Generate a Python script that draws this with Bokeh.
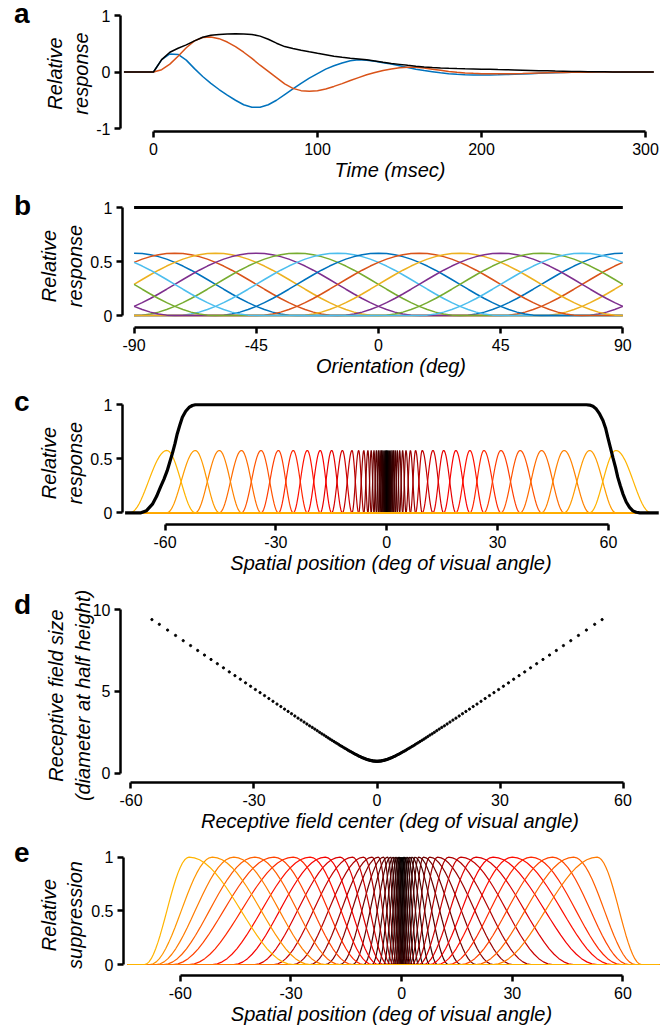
import numpy as np
from bokeh.plotting import figure
from bokeh.models import Range1d, FixedTicker, Div
from bokeh.layouts import column, row
from bokeh.embed import file_html
from bokeh.resources import INLINE

FONT = "Liberation Sans"

# ---------------- data ----------------
# a: temporal responses (msec)
a_time = [-18] + list(range(0, 310, 5))
a_blue = [0, 0, 0.22, 0.32, 0.31, 0.21, 0.06, -0.08, -0.20, -0.31,
          -0.41, -0.50, -0.58, -0.625, -0.625, -0.58, -0.50, -0.40, -0.30, -0.20,
          -0.11, -0.03, 0.05, 0.11, 0.16, 0.20, 0.215, 0.21, 0.19, 0.165,
          0.14, 0.11, 0.08, 0.05, 0.025, 0.005, -0.015, -0.03, -0.04, -0.048,
          -0.052, -0.054, -0.053, -0.05, -0.046, -0.041, -0.035, -0.029, -0.023, -0.018,
          -0.013, -0.009, -0.006, -0.004, -0.002, -0.001, 0, 0, 0, 0,
          0, 0, 0]
a_orange = [0, 0, 0.04, 0.14, 0.28, 0.43, 0.55, 0.61, 0.62, 0.59,
            0.53, 0.45, 0.35, 0.24, 0.12, 0.01, -0.10, -0.21, -0.29, -0.33,
            -0.34, -0.33, -0.30, -0.255, -0.205, -0.15, -0.10, -0.05, -0.01, 0.025,
            0.055, 0.075, 0.085, 0.083, 0.07, 0.05, 0.03, 0.01, -0.006, -0.017,
            -0.024, -0.029, -0.031, -0.032, -0.031, -0.029, -0.026, -0.022, -0.018, -0.014,
            -0.011, -0.008, -0.006, -0.004, -0.003, -0.002, -0.001, 0, 0, 0,
            0, 0, 0]
a_black = [0, 0, 0.22, 0.35, 0.42, 0.48, 0.55, 0.615, 0.65, 0.665,
           0.672, 0.675, 0.673, 0.665, 0.635, 0.58, 0.51, 0.45, 0.415, 0.385,
           0.357, 0.33, 0.305, 0.28, 0.26, 0.245, 0.232, 0.215, 0.195, 0.172,
           0.152, 0.135, 0.118, 0.103, 0.09, 0.08, 0.072, 0.065, 0.06, 0.056,
           0.053, 0.05, 0.047, 0.043, 0.04, 0.036, 0.032, 0.028, 0.024, 0.02,
           0.016, 0.013, 0.01, 0.008, 0.006, 0.004, 0.003, 0.002, 0.001, 0,
           0, 0, 0]

# shape of one tuning-curve flank (fraction of half-width -> fraction of peak)
flank_u = [0.00, 0.05, 0.10, 0.15, 0.20, 0.25, 0.30, 0.35, 0.40, 0.45, 0.50,
           0.55, 0.60, 0.65, 0.70, 0.75, 0.80, 0.85, 0.90, 0.95, 1.00]
flank_profile = [1.0, 0.9938, 0.9755, 0.9455, 0.9045, 0.8536, 0.7939, 0.7270, 0.6545, 0.5782, 0.5,
                 0.4218, 0.3455, 0.2730, 0.2061, 0.1464, 0.0955, 0.0545, 0.0245, 0.0062, 0.0]

# b: orientation channels
b_centers = [-90, -75, -60, -45, -30, -15, 0, 15, 30, 45, 60, 75]
b_peak = 0.577
b_halfwidth = 60
b_total_x = [-90, 90]
b_total = [1.0, 1.0]

# c: spatial channels
c_centers = [-59.5, -51.8, -45.3, -39.3, -34.0, -29.3, -25.3, -21.5, -18.0, -14.9, -12.0, -9.4,
             -7.6, -6.2, -5.1, -4.2, -3.45, -2.8, -2.25, -1.8, -1.4, -1.05, -0.75, -0.5, -0.3, -0.12,
             0.0, 0.15, 0.33, 0.55, 0.8, 1.1, 1.45, 1.85, 2.3, 2.85, 3.5, 4.3, 5.2, 6.4, 7.8,
             9.6, 12.5, 15.4, 18.7, 22.5, 26.3, 30.9, 36.1, 41.9, 48.0, 54.9, 62.0]
c_left_edge = -69.5
c_right_edge = 71.5
c_domain = (-70.5, 71.5)
c_peak = 0.577
c_total_x = [-70.8, -66.5, -65.0, -63.4, -62.3, -61.2, -60.3, -59.4, -58.7, -58.0, -57.3, -56.7,
             -56.0, -55.3, -54.4, -53.5, -52.6, -51.8, 54.0, 54.9, 55.8, 56.7, 57.6, 58.5, 59.2,
             59.8, 60.5, 61.2, 61.9, 62.5, 63.2, 63.9, 64.8, 65.7, 66.6, 67.5, 68.5, 73.6]
c_total = [0, 0, 0.02, 0.08, 0.15, 0.24, 0.31, 0.39, 0.47, 0.55, 0.64, 0.73,
           0.81, 0.885, 0.94, 0.975, 0.993, 1.0, 1.0, 0.997, 0.985, 0.96, 0.915, 0.855, 0.785,
           0.70, 0.605, 0.51, 0.42, 0.33, 0.25, 0.176, 0.10, 0.05, 0.018, 0.005, 0, 0]

# d: receptive field size vs centre (one side; the other side mirrors it)
d_center_pos = [0, 0.17, 0.34, 0.50, 0.67, 0.84, 1.01, 1.19, 1.36, 1.54, 1.72, 1.90, 2.08, 2.27,
                2.46, 2.65, 2.85, 3.05, 3.26, 3.47, 3.69, 3.91, 4.14, 4.37, 4.61, 4.86, 5.11,
                5.37, 5.64, 5.92, 6.21, 6.50, 6.81, 7.13, 7.45, 7.79, 8.14, 8.50, 8.88, 9.26,
                9.66, 10.08, 10.51, 10.96, 11.42, 11.90, 12.39, 12.91, 13.45, 14.00, 14.58,
                15.17, 15.79, 16.44, 17.10, 17.80, 18.52, 19.26, 20.04, 20.85, 21.68, 22.55,
                23.46, 24.39, 25.37, 26.38, 27.43, 28.52, 29.66, 30.83, 32.06, 33.33, 34.65,
                36.03, 37.45, 38.94, 40.48, 42.08, 43.74, 45.47, 47.26, 49.13, 51.07, 53.09, 54.9]
d_size = [0.73, 0.73, 0.73, 0.74, 0.74, 0.74, 0.75, 0.76, 0.77, 0.78, 0.79, 0.80, 0.81, 0.83,
          0.84, 0.86, 0.88, 0.90, 0.92, 0.94, 0.96, 0.99, 1.02, 1.04, 1.07, 1.11, 1.14,
          1.17, 1.21, 1.25, 1.29, 1.33, 1.37, 1.42, 1.47, 1.52, 1.57, 1.63, 1.68, 1.74,
          1.81, 1.87, 1.94, 2.01, 2.08, 2.16, 2.24, 2.33, 2.41, 2.50, 2.60,
          2.70, 2.80, 2.90, 3.01, 3.13, 3.25, 3.37, 3.50, 3.64, 3.78, 3.92,
          4.08, 4.23, 4.40, 4.57, 4.75, 4.93, 5.12, 5.32, 5.53, 5.75, 5.97,
          6.20, 6.45, 6.70, 6.96, 7.23, 7.51, 7.81, 8.11, 8.43, 8.76, 9.11, 9.40]

# e: suppressive pools
e_centers = [-57.6, -51.3, -45.5, -39.8, -34.6, -29.4, -24.8, -20.7, -16.7, -13.3, -10.3,
             -8.0, -6.3, -4.9, -3.8, -2.95, -2.25, -1.7, -1.25, -0.85, -0.5, -0.2,
             0.1, 0.4, 0.75, 1.15, 1.6, 2.15, 2.8, 3.6, 4.6, 5.9, 7.6,
             9.7, 12.7, 16.1, 20.2, 24.8, 30.0, 35.1, 40.9, 46.6, 53.0]
e_left_virtual = [-69.7, -68.2, -66.5, -64.5, -62.0]
e_right_virtual = [57.0, 59.5, 61.6, 63.4, 65.0]
e_reach = 5
e_domain = (-74.3, 70.2)
e_peak = 1.0

# ---------------- helpers ----------------
U = np.array(flank_u)
P = np.array(flank_profile)


def bump(center, left, right, peak):
    xl = center - (center - left) * U[::-1]
    yl = peak * P[::-1]
    xr = center + (right - center) * U[1:]
    yr = peak * P[1:]
    return np.concatenate([xl, xr]), np.concatenate([yl, yr])


def with_domain(x, y, lo, hi):
    xs, ys = list(x), list(y)
    if lo < xs[0]:
        xs, ys = [lo] + xs, [0.0] + ys
    if hi > xs[-1]:
        xs, ys = xs + [hi], ys + [0.0]
    return xs, ys


def circular_curve(c):
    pts = []
    for k in (-180, 0, 180):
        x, y = bump(c + k, c + k - b_halfwidth, c + k + b_halfwidth, b_peak)
        for xi, yi in zip(x, y):
            xi = round(float(xi), 6)
            if -90 - 1e-6 <= xi <= 90 + 1e-6:
                pts.append((xi, float(yi)))
    xs = [q[0] for q in pts]
    if min(xs) > -90:
        pts.append((-90.0, 0.0))
    if max(xs) < 90:
        pts.append((90.0, 0.0))
    pts.sort(key=lambda q: q[0])
    return [q[0] for q in pts], [q[1] for q in pts]


def hot(t):
    r = min(1.0, max(0.0, t / 0.375))
    g = min(1.0, max(0.0, (t - 0.375) / 0.375))
    b = min(1.0, max(0.0, (t - 0.75) / 0.25))
    return "#%02x%02x%02x" % (int(r * 255), int(g * 255), int(b * 255))


def rank_colors(centers):
    # colour by the channel's rank distance from the central channel (hot colormap)
    k0 = min(range(len(centers)), key=lambda k: abs(centers[k]))
    kmax = max(k0, len(centers) - 1 - k0)
    return [hot(0.64 * (abs(k - k0) / kmax) ** 1.5) for k in range(len(centers))]


LETTER_W = 34
W = 669 - LETTER_W
FRAME_LEFT = 120 - LETTER_W


def make_fig(h, top, bottom, xr, yr):
    p = figure(width=W, height=h, x_range=Range1d(*xr), y_range=Range1d(*yr),
               toolbar_location=None, output_backend="svg", title=None,
               min_border_left=FRAME_LEFT, min_border_right=10,
               min_border_top=top, min_border_bottom=bottom)
    p.xgrid.visible = False
    p.ygrid.visible = False
    p.outline_line_color = None
    p.background_fill_color = "white"
    p.border_fill_color = "white"
    return p


def letter_div(h, letter, pad_top):
    html = ('<div style="margin:0;padding:%dpx 0 0 14px;font-family:\'Liberation Sans\',Arial,sans-serif;'
            'font-weight:bold;font-size:28px;line-height:28px;color:#000;">%s</div>' % (pad_top, letter))
    return Div(text=html, width=LETTER_W, height=h, margin=0)


def style_axes(p, xb, yb, xticks, yticks, xlabels, ylabels, xlab, ylab, yl_standoff=2):
    for ax in (p.xaxis[0], p.yaxis[0]):
        ax.axis_line_width = 2.5
        ax.axis_line_color = "black"
        ax.major_tick_line_width = 2.5
        ax.major_tick_line_color = "black"
        ax.major_tick_out = 6
        ax.major_tick_in = 0
        ax.minor_tick_line_color = None
        ax.major_label_text_font = FONT
        ax.major_label_text_font_size = "16px"
        ax.major_label_text_color = "black"
        ax.major_label_standoff = 4
        ax.axis_label_text_font = FONT
        ax.axis_label_text_font_size = "20px"
        ax.axis_label_text_font_style = "italic"
        ax.axis_label_text_color = "black"
    p.xaxis.major_label_standoff = 5
    p.xaxis.bounds = xb
    p.yaxis.bounds = yb
    p.xaxis.ticker = FixedTicker(ticks=xticks)
    p.yaxis.ticker = FixedTicker(ticks=yticks)
    p.xaxis.major_label_overrides = {k: v for k, v in zip(xticks, xlabels)}
    p.yaxis.major_label_overrides = {k: v for k, v in zip(yticks, ylabels)}
    p.xaxis.axis_label = xlab
    p.yaxis.axis_label = ylab
    p.xaxis.axis_label_standoff = 1
    p.yaxis.axis_label_standoff = yl_standoff


# ---------------- panel a ---------------- (page rows 0..186, frame 15..131)
ha = 186
pa = make_fig(ha, 15, 55, (-20.1, 308.5), (-1.053, 1.0))
pa.line(a_time, a_blue, line_color="#0072BD", line_width=1.5)
pa.line(a_time, a_orange, line_color="#D95319", line_width=1.5)
pa.line(a_time, a_black, line_color="black", line_width=1.5)
style_axes(pa, (0, 300), (-1, 1), [0, 100, 200, 300], [-1, 0, 1],
           ["0", "100", "200", "300"], ["-1", "0", "1"], "Time (msec)", "Relative\nresponse",
           yl_standoff=1)

# ---------------- panel b ---------------- (page rows 186..384, frame 204..327)
hb = 198
pb = make_fig(hb, 18, 57, (-94.26, 103.5), (-0.111, 1.028))
b_palette = ["#0072BD", "#D95319", "#EDB120", "#7E2F8E", "#77AC30", "#4DBEEE"]
for i, c in enumerate(b_centers):
    xs, ys = circular_curve(c)
    pb.line(xs, ys, line_color=b_palette[i % len(b_palette)], line_width=1.5)
pb.line(b_total_x, b_total, line_color="black", line_width=3.2)
style_axes(pb, (-90, 90), (0, 1), [-90, -45, 0, 45, 90], [0, 0.5, 1],
           ["-90", "-45", "0", "45", "90"], ["0", "0.5", "1"], "Orientation (deg)", "Relative\nresponse",
           yl_standoff=1)

# ---------------- panel c ---------------- (page rows 384..582, frame 401..524)
hc = 198
pc = make_fig(hc, 17, 58, (-71.5, 73.8), (-0.108, 1.03))
n = len(c_centers)
c_cols = rank_colors(c_centers)
for i in sorted(range(n), key=lambda k: abs(c_centers[k])):
    L = c_centers[i - 1] if i > 0 else c_left_edge
    R = c_centers[i + 1] if i < n - 1 else c_right_edge
    x, y = bump(c_centers[i], L, R, c_peak)
    xs, ys = with_domain(x, y, *c_domain)
    pc.line(xs, ys, line_color=c_cols[i], line_width=1.2)
pc.line(c_total_x, c_total, line_color="black", line_width=3.2)
style_axes(pc, (-60, 60), (0, 1), [-60, -30, 0, 30, 60], [0, 0.5, 1],
           ["-60", "-30", "0", "30", "60"], ["0", "0.5", "1"],
           "Spatial position (deg of visual angle)", "Relative\nresponse", yl_standoff=1)

# ---------------- panel d ---------------- (page rows 582..834, frame 608..782)
hd = 252
pd_ = make_fig(hd, 26, 52, (-62.56, 68.9), (-0.57, 10.08))
d_x = [-v for v in d_center_pos[:0:-1]] + d_center_pos
d_y = d_size[:0:-1] + d_size
pd_.scatter(d_x, d_y, size=2.3, color="black", marker="circle")
style_axes(pd_, (-60, 60), (0, 10), [-60, -30, 0, 30, 60], [0, 5, 10],
           ["-60", "-30", "0", "30", "60"], ["0", "5", "10"],
           "Receptive field center (deg of visual angle)",
           "Receptive field size\n(diameter at half height)", yl_standoff=-4)

# ---------------- panel e ---------------- (page rows 834..1028, frame 854..975)
he = 194
pe = make_fig(he, 20, 53, (-75.4, 69.9), (-0.1025, 1.025))
ext = e_left_virtual + e_centers + e_right_virtual
nv = len(e_left_virtual)
e_cols = rank_colors(e_centers)
for i in sorted(range(len(e_centers)), key=lambda k: abs(e_centers[k])):
    L = ext[i + nv - e_reach]
    R = ext[i + nv + e_reach]
    x, y = bump(e_centers[i], L, R, e_peak)
    xs, ys = with_domain(x, y, *e_domain)
    pe.line(xs, ys, line_color=e_cols[i], line_width=1.2)
style_axes(pe, (-60, 60), (0, 1), [-60, -30, 0, 30, 60], [0, 0.5, 1],
           ["-60", "-30", "0", "30", "60"], ["0", "0.5", "1"],
           "Spatial position (deg of visual angle)", "Relative\nsuppression", yl_standoff=2)

rows = [
    row(letter_div(ha, "a", 0), pa, spacing=0),
    row(letter_div(hb, "b", 6), pb, spacing=0),
    row(letter_div(hc, "c", 4), pc, spacing=0),
    row(letter_div(hd, "d", 9), pd_, spacing=0),
    row(letter_div(he, "e", 5), pe, spacing=0),
]
layout = column(*rows, spacing=0)
open("out.html", "w").write(file_html(layout, INLINE))
